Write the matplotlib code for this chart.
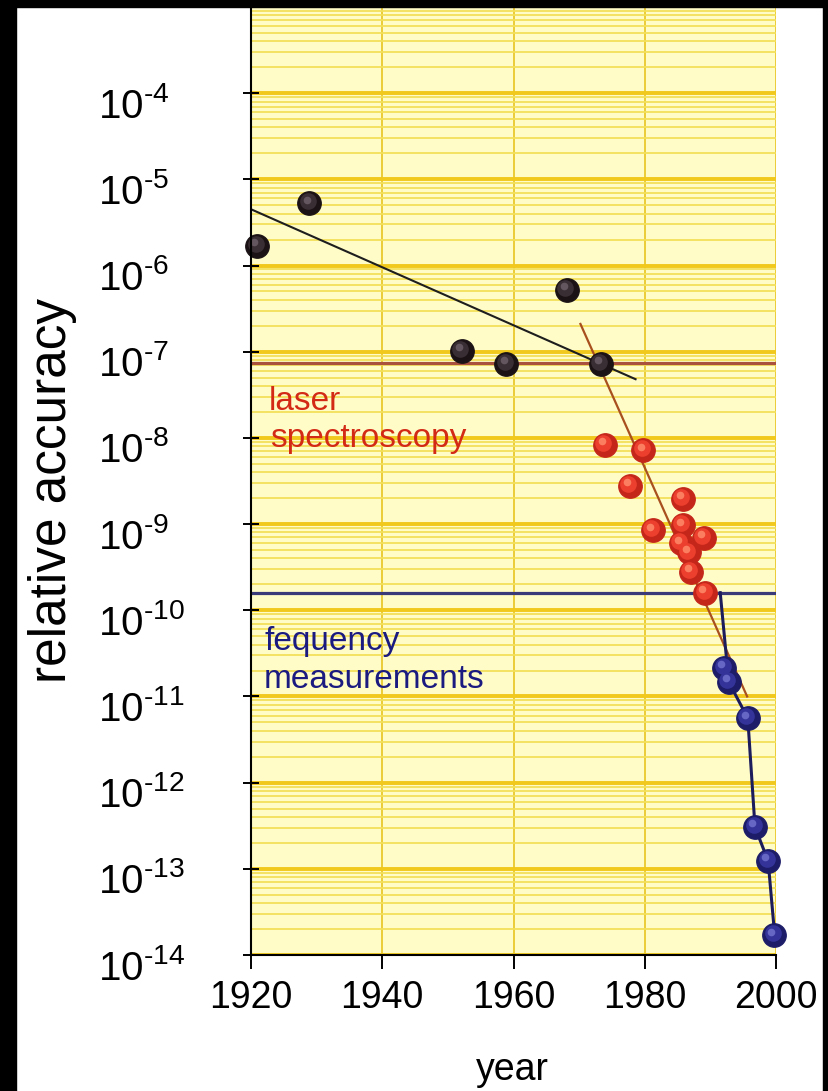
import matplotlib
matplotlib.use("Agg")
import matplotlib.pyplot as plt
from matplotlib.patches import Rectangle
from matplotlib.transforms import offset_copy, ScaledTranslation
from matplotlib.ticker import LogLocator, NullFormatter

plt.rcParams['font.family'] = ['Liberation Sans', 'DejaVu Sans']
plt.rcParams['mathtext.fontset'] = 'custom'
plt.rcParams['mathtext.rm'] = 'Liberation Sans'
plt.rcParams['mathtext.it'] = 'Liberation Sans'
plt.rcParams['mathtext.default'] = 'regular'

# early measurements (black)
black_years = [1920.9, 1928.9, 1952.1, 1958.9, 1968.1, 1973.3]
black_acc = [1.7e-6, 5.3e-6, 1.02e-7, 7.2e-8, 5.2e-7, 7.2e-8]

# laser spectroscopy (red)
red_years = [1973.9, 1979.8, 1977.7, 1985.8, 1981.2, 1985.8, 1989.0, 1985.5, 1986.7, 1987.0, 1989.2]
red_acc = [8.3e-9, 7.2e-9, 2.8e-9, 1.95e-9, 8.5e-10, 9.7e-10, 6.9e-10, 6.0e-10, 4.7e-10, 2.8e-10, 1.6e-10]

# frequency measurements (blue)
blue_years = [1992.1, 1992.8, 1995.7, 1996.8, 1998.8, 1999.7]
blue_acc = [2.14e-11, 1.47e-11, 5.6e-12, 3.05e-13, 1.23e-13, 1.7e-14]

# trend lines
black_fit_years = [1920.0, 1978.6]
black_fit_acc = [4.5e-6, 4.8e-8]
red_fit_years = [1970.2, 1995.6]
red_fit_acc = [2.1e-7, 1.0e-11]
blue_fit_years = [1991.5, 1992.8, 1995.7, 1996.8, 1998.8, 1999.8]
blue_fit_acc = [1.6e-10, 1.47e-11, 5.6e-12, 3.05e-13, 1.23e-13, 1.7e-14]

laser_level = 7.4e-8
freq_level = 1.6e-10

year_ticks = [1920, 1940, 1960, 1980, 2000]
acc_exponents = list(range(-14, -3))

fig = plt.figure(figsize=(8.29, 10.91), dpi=100, facecolor='white')
W, H = 829, 1091
ax = fig.add_axes([251 / W, 1 - 955 / H, (776 - 251) / W, (955 - 7) / H])
ax.set_facecolor('#fffcc8')
ax.set_yscale('log')
ax.set_xlim(1920, 2000)
ax.set_ylim(1e-14, 1e-3)

# grid
ax.set_axisbelow(True)
ax.yaxis.set_minor_locator(LogLocator(base=10, subs=range(2, 10), numticks=200))
ax.yaxis.set_minor_formatter(NullFormatter())
ax.grid(which='minor', axis='y', color='#f3e05a', lw=1.3)
ax.grid(which='major', axis='y', color='#f1c81c', lw=2.8)
ax.grid(which='major', axis='x', color='#e9c92c', lw=1.3)

ax.set_xticks(year_ticks)
ax.set_xticklabels([str(y) for y in year_ticks])
ax.set_yticks([10.0 ** e for e in acc_exponents])
ax.set_yticklabels([r'$10^{\text{%d}}$' % e for e in acc_exponents])

for s in ['top', 'right']:
    ax.spines[s].set_visible(False)
for s in ['left', 'bottom']:
    ax.spines[s].set_linewidth(1.5)
    ax.spines[s].set_zorder(8)

ax.tick_params(axis='x', which='major', direction='out', length=10, width=1.4,
               labelsize=27, pad=8)
ax.tick_params(axis='y', which='major', direction='inout', length=12, width=1.4,
               labelsize=29, pad=104)
ax.tick_params(axis='y', which='minor', length=0)
for lab in ax.get_yticklabels():
    lab.set_horizontalalignment('left')
    lab.set_transform(lab.get_transform() + ScaledTranslation(0, -9 / 100, fig.dpi_scale_trans))

ax.set_ylabel('relative accuracy', fontsize=37, va='center')
ax.yaxis.set_label_coords(-0.379, 0.49)
ax.set_xlabel('year', fontsize=27, va='center')
ax.xaxis.set_label_coords(0.497, -0.121)

# reference levels
ax.axhline(laser_level, color='#a9513d', lw=2.3, zorder=3)
ax.axhline(freq_level, color='#3a3a78', lw=2.3, zorder=3)

# trend lines
ax.plot(black_fit_years, black_fit_acc, color='#1e1e1e', lw=1.5, zorder=4)
ax.plot(red_fit_years, red_fit_acc, color='#a8501e', lw=1.6, zorder=4)
ax.plot(blue_fit_years, blue_fit_acc, color='#1c1c5c', lw=2.2, zorder=4, clip_on=False)


def balls(x, y, dark, mid, light):
    ax.plot(x, y, 'o', ms=17, mfc=dark, mec=dark, mew=0.8, ls='none', zorder=5, clip_on=False)
    t1 = offset_copy(ax.transData, fig=fig, x=-1.0, y=1.3, units='points')
    ax.plot(x, y, 'o', ms=12, mfc=mid, mec='none', ls='none', zorder=6, clip_on=False, transform=t1)
    t2 = offset_copy(ax.transData, fig=fig, x=-2.0, y=2.6, units='points')
    ax.plot(x, y, 'o', ms=5.5, mfc=light, mec='none', alpha=0.85, ls='none', zorder=7,
            clip_on=False, transform=t2)


balls(black_years, black_acc, '#1a1214', '#392e33', '#6c5e66')
balls(red_years, red_acc, '#c4261a', '#ec3f2e', '#ff8a6a')
balls(blue_years, blue_acc, '#1c1c68', '#33339a', '#7070cc')

# annotations
ax.text(0.0343, 0.5749, 'laser', color='#d32a16', fontsize=24, transform=ax.transAxes, va='baseline')
ax.text(0.0362, 0.5359, 'spectroscopy', color='#d32a16', fontsize=24, transform=ax.transAxes, va='baseline')
ax.text(0.0248, 0.3217, 'fequency', color='#1a1a80', fontsize=24, transform=ax.transAxes, va='baseline')
ax.text(0.0248, 0.2816, 'measurements', color='#1a1a80', fontsize=24, transform=ax.transAxes, va='baseline')

# black frame strips
fig.add_artist(Rectangle((0, 0), 16 / W, 1, transform=fig.transFigure, color='black', zorder=10))
fig.add_artist(Rectangle((0, 1 - 7 / H), 1, 7 / H, transform=fig.transFigure, color='black', zorder=10))
fig.add_artist(Rectangle((823 / W, 0), 6 / W, 1, transform=fig.transFigure, color='black', zorder=10))

fig.savefig('out.png', dpi=100, facecolor='white')
